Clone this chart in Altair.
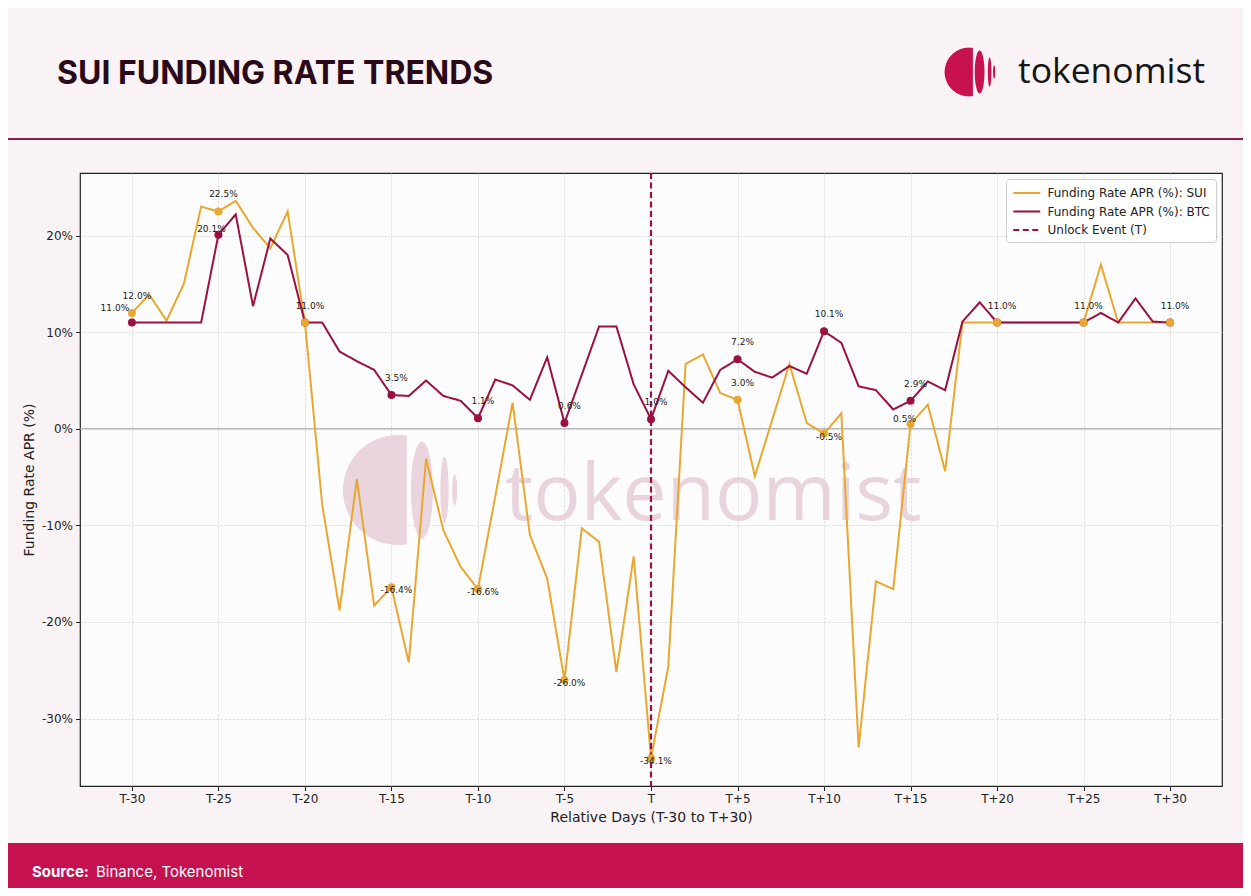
import altair as alt
import pandas as pd
import numpy as np

# ---------------- data ----------------
days = list(range(-30, 31))
sui_apr = [12.0, 13.9, 11.2, 15.0, 23.0, 22.5, 23.6, 20.8, 18.7, 22.5,
           11.0, -7.9, -18.8, -5.2, -18.3, -16.4, -24.2, -3.1, -10.5, -14.3,
           -16.6, -7.0, 2.7, -11.0, -15.5, -26.0, -10.3, -11.7, -25.2, -13.2,
           -34.1,
           -24.6, 6.7, 7.7, 3.7, 3.0, -4.9, 0.9, 6.7, 0.6, -0.5,
           1.6, -33.0, -15.8, -16.6, 0.5, 2.5, -4.4, 11.0, 11.0, 11.0,
           11.0, 11.0, 11.0, 11.0, 11.0, 17.0, 11.0, 11.0, 11.0, 11.0]
btc_apr = [11.0, 11.0, 11.0, 11.0, 11.0, 20.1, 22.2, 12.7, 19.7, 18.0,
           11.0, 11.0, 8.0, 7.0, 6.1, 3.5, 3.4, 5.0, 3.4, 2.9,
           1.1, 5.1, 4.5, 3.0, 7.4, 0.6, 5.6, 10.6, 10.6, 4.6,
           1.0,
           6.0, 4.3, 2.7, 6.1, 7.2, 5.9, 5.3, 6.5, 5.7, 10.1,
           8.9, 4.4, 4.0, 2.0, 2.9, 4.9, 4.0, 11.1, 13.1, 11.0,
           11.0, 11.0, 11.0, 11.0, 11.0, 12.0, 11.0, 13.5, 11.1, 11.0]
label_days = [-30, -25, -20, -15, -10, -5, 0, 5, 10, 15, 20, 25, 30]
unlock_days = [0]
series_names = ["Funding Rate APR (%): SUI", "Funding Rate APR (%): BTC", "Unlock Event (T)"]
x_tick_values = [-30, -25, -20, -15, -10, -5, 0, 5, 10, 15, 20, 25, 30]
x_tick_labels = ["T-30", "T-25", "T-20", "T-15", "T-10", "T-5", "T",
                 "T+5", "T+10", "T+15", "T+20", "T+25", "T+30"]
y_tick_values = [-30, -20, -10, 0, 10, 20]
y_tick_labels = ["-30%", "-20%", "-10%", "0%", "10%", "20%"]
title_text = "SUI FUNDING RATE TRENDS"
brand_text = "tokenomist"
source_bold = "Source:"
source_text = "Binance, Tokenomist"
x_title = "Relative Days (T-30 to T+30)"
y_title = "Funding Rate APR (%)"

# ---------------- styles ----------------
SUI_C = "#E8A830"
BTC_C = "#9A1141"
BG = "#FAF3F5"
FOOT = "#C51150"
W, H = 1142, 613
PAD = {"left": 72, "top": 165, "right": 21, "bottom": 102}

sui_df = pd.DataFrame({"day": days, "apr": sui_apr, "series": series_names[0]})
btc_df = pd.DataFrame({"day": days, "apr": btc_apr, "series": series_names[1]})
unlock_df = pd.DataFrame({"day": unlock_days, "series": series_names[2]})
zero_df = pd.DataFrame({"apr": [0.0]})
one = pd.DataFrame({"k": [0]})


def ternary(values, labels):
    expr = "''"
    for v, l in reversed(list(zip(values, labels))):
        expr = f"datum.value == {v} ? '{l}' : ({expr})"
    return expr


X = alt.X("day:Q", scale=alt.Scale(domain=[-33, 33], nice=False, zero=False),
          axis=alt.Axis(values=x_tick_values, labelExpr=ternary(x_tick_values, x_tick_labels),
                        title=x_title, titlePadding=6))
Y = alt.Y("apr:Q", scale=alt.Scale(domain=[-36.985, 26.485], nice=False, zero=False),
          axis=alt.Axis(values=y_tick_values, labelExpr=ternary(y_tick_values, y_tick_labels),
                        title=y_title, titlePadding=5))

color_scale = alt.Scale(domain=series_names, range=[SUI_C, BTC_C, BTC_C])
dash_scale = alt.Scale(domain=series_names, range=[[1, 0], [1, 0], [6, 3.5]])
legend = alt.Legend(title=None, orient="top-right", offset=6, symbolType="M-1,0L3,0",
                    symbolStrokeWidth=2, symbolSize=182, labelFont="DejaVu Sans",
                    labelFontSize=12, labelColor="#222", fillColor="white",
                    strokeColor="#cccccc", padding=6, cornerRadius=3, rowPadding=4.5,
                    labelLimit=400, labelOffset=19.5, symbolOffset=0)
COLOR = alt.Color("series:N", scale=color_scale, legend=legend, sort=series_names)
DASH = alt.StrokeDash("series:N", scale=dash_scale, legend=legend, sort=series_names)


def logo_path():
    parts = []
    t0 = np.arccos(0.16)
    angs = np.linspace(t0, 2 * np.pi - t0, 72)
    pts = [(np.cos(a), -np.sin(a)) for a in angs]
    parts.append("M" + " L".join(f"{x:.3f} {y:.3f}" for x, y in pts) + " Z")
    for cx, rx, ry in [(0.435, 0.2, 0.88), (0.845, 0.075, 0.6), (1.03, 0.045, 0.28)]:
        a = np.linspace(0, 2 * np.pi, 40, endpoint=False)
        pts = [(cx + rx * np.cos(t), ry * np.sin(t)) for t in a]
        parts.append("M" + " L".join(f"{x:.3f} {y:.3f}" for x, y in pts) + " Z")
    return " ".join(parts)


LOGO = logo_path()

# watermark (behind data)
wm_logo = alt.Chart(one).mark_point(shape=LOGO, filled=True, color="#E6CDD7", opacity=0.85,
                                    size=12100, strokeWidth=0).encode(
    x=alt.value(318), y=alt.value(317))
wm_text = alt.Chart(one).mark_text(text=brand_text, font="Open Sans", fontSize=79,
                                   align="left", baseline="alphabetic", color="#E6CDD7",
                                   opacity=0.85).encode(x=alt.value(425), y=alt.value(347))

zero_line = alt.Chart(zero_df).mark_rule(color="#a0a0a0", strokeWidth=1).encode(y=Y)

sui_line = alt.Chart(sui_df).mark_line(strokeWidth=2).encode(x=X, y=Y, color=COLOR, strokeDash=DASH)
btc_line = alt.Chart(btc_df).mark_line(strokeWidth=2).encode(x=X, y=Y, color=COLOR, strokeDash=DASH)
unlock = alt.Chart(unlock_df).mark_rule(strokeWidth=2.2).encode(x=X, color=COLOR, strokeDash=DASH)

btc_pts = alt.Chart(btc_df[btc_df.day.isin(label_days)]).mark_circle(
    size=64, opacity=1, color=BTC_C).encode(x=X, y=Y)
sui_pts = alt.Chart(sui_df[sui_df.day.isin(label_days)]).mark_circle(
    size=64, opacity=1, color=SUI_C).encode(x=X, y=Y)

# labels (a BTC label identical to the SUI label on the same day is drawn once)
sui_lab = sui_df[sui_df.day.isin(label_days)].assign(s="SUI")
btc_lab = btc_df[btc_df.day.isin(label_days)].assign(s="BTC")
same = dict(zip(sui_lab.day, sui_lab.apr))
btc_lab = btc_lab[[same.get(d) != v for d, v in zip(btc_lab.day, btc_lab.apr)]]
lab = pd.concat([btc_lab, sui_lab])
lab["txt"] = lab.apr.map(lambda v: f"{v:.1f}%")
nudges = {("BTC", -30): "n1", ("BTC", -25): "n2", ("SUI", 15): "n3"}
offsets = {"pos": (5, -17), "neg": (5, 3), "n1": (-17, -15), "n2": (-7, -6), "n3": (-6, -5)}
lab["grp"] = [nudges.get((s, d), "pos" if v >= 0 else "neg")
              for s, d, v in zip(lab.s, lab.day, lab.apr)]
label_layers = []
for g, (dx, dy) in offsets.items():
    label_layers.append(
        alt.Chart(lab).transform_filter(alt.datum.grp == g).mark_text(
            dx=dx, dy=dy, font="DejaVu Sans", fontSize=9, color="#222",
            baseline="middle", align="center").encode(x=X, y=Y, text="txt:N"))

# header / footer decorations
title = alt.Chart(one).mark_text(text=title_text, font="Inter", fontSize=32, fontWeight=700,
                                 align="left", baseline="alphabetic", color="#2A0A18").encode(
    x=alt.value(-23), y=alt.value(-89))
logo = alt.Chart(one).mark_point(shape=LOGO, filled=True, color="#C8114F", opacity=1,
                                 size=2381, strokeWidth=0).encode(
    x=alt.value(889), y=alt.value(-101))
brand = alt.Chart(one).mark_text(text=brand_text, font="Open Sans", fontSize=35.5,
                                 align="left", baseline="alphabetic", color="#151515").encode(
    x=alt.value(938), y=alt.value(-90))
sep = alt.Chart(one).mark_rule(color="#8B1D4B", strokeWidth=2).encode(
    x=alt.value(-75), x2=alt.value(1175), y=alt.value(-34))
footer = alt.Chart(one).mark_rect(color=FOOT).encode(
    x=alt.value(-80), x2=alt.value(1180), y=alt.value(670), y2=alt.value(740))
src1 = alt.Chart(one).mark_text(text=source_bold, font="Inter", fontSize=15, fontWeight=700,
                                align="left", baseline="middle", color="white").encode(
    x=alt.value(-48), y=alt.value(699))
src2 = alt.Chart(one).mark_text(text=source_text, font="Inter", fontSize=15,
                                align="left", baseline="middle", color="white").encode(
    x=alt.value(16), y=alt.value(699))

chart = alt.layer(
    wm_logo, wm_text, zero_line, sui_line, btc_line, unlock, btc_pts, sui_pts,
    *label_layers, title, logo, brand, sep, footer, src1, src2
).properties(
    width=W, height=H, background=BG, padding=PAD,
    autosize=alt.AutoSizeParams(type="none")
).configure_view(
    fill="#FDFCFC", stroke="#222222", strokeWidth=1.2
).configure_axis(
    domain=False, grid=True, gridColor="#cfcfcf", gridDash=[2, 2], gridWidth=0.8,
    tickColor="#222", tickSize=4.5, tickWidth=1, labelFont="DejaVu Sans",
    labelFontSize=12, labelColor="#222", titleFont="DejaVu Sans", titleFontSize=14,
    titleFontWeight="normal", titleColor="#222", labelPadding=3
).configure_legend(
    labelFontSize=12, labelFont="DejaVu Sans"
)

chart.save("out.html", embed_options={"renderer": "svg", "actions": False})
